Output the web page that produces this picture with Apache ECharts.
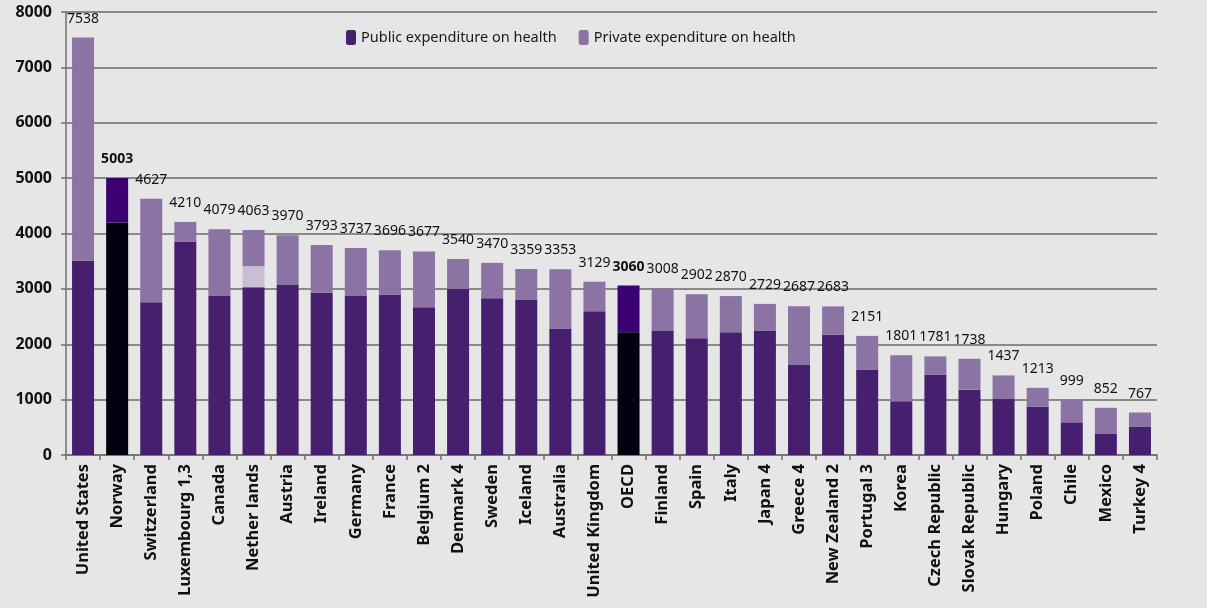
<!DOCTYPE html>
<html>
<head>
<meta charset="utf-8">
<script src="https://cdn.jsdelivr.net/npm/echarts@6/dist/echarts.min.js"></script>
<style>
html,body{margin:0;padding:0;background:#e6e6e6;}
#chart{width:1207px;height:608px;}
</style>
</head>
<body>
<div id="chart"></div>
<script>
const categories = ["United States","Norway","Switzerland","Luxembourg 1,3","Canada","Nether lands","Austria","Ireland","Germany","France","Belgium 2","Denmark 4","Sweden","Iceland","Australia","United Kingdom","OECD","Finland","Spain","Italy","Japan 4","Greece 4","New Zealand 2","Portugal 3","Korea","Czech Republic","Slovak Republic","Hungary","Poland","Chile","Mexico","Turkey 4"];
const totals = [7538,5003,4627,4210,4079,4063,3970,3793,3737,3696,3677,3540,3470,3359,3353,3129,3060,3008,2902,2870,2729,2687,2683,2151,1801,1781,1738,1437,1213,999,852,767];
const publicExp = [3510,4200,2760,3850,2870,3030,3070,2930,2870,2900,2670,3000,2830,2800,2285,2595,2215,2240,2110,2215,2240,1625,2170,1545,970,1455,1180,1010,870,590,380,515];
const otherExp = [0,0,0,0,0,380,0,0,0,0,0,0,0,0,0,0,0,0,0,0,0,0,0,0,0,0,0,0,0,0,0,0];
const highlighted = ["Norway","OECD"];
const yTicks = [0,1000,2000,3000,4000,5000,6000,7000,8000];

const privateExp = totals.map((t,i)=>t-publicExp[i]-otherExp[i]);
const C_PUB = '#46206f', C_PRIV = '#8b73a3', C_OTHER = '#cbbfd6';
const C_HPUB = '#05000f', C_HPRIV = '#3b0073';
const FONT = '"Noto Sans", sans-serif';

const pubData = publicExp.map((v,i)=> highlighted.includes(categories[i]) ? {value:v,itemStyle:{color:C_HPUB}} : v);
const privData = privateExp.map((v,i)=> highlighted.includes(categories[i]) ? {value:v,itemStyle:{color:C_HPRIV},label:{fontWeight:'bold'}} : v);

const chart = echarts.init(document.getElementById('chart'));
chart.setOption({
  backgroundColor:'#e6e6e6',
  animation:false,
  textStyle:{fontFamily:FONT},
  legend:{
    data:['Public expenditure on health','Private expenditure on health'],
    left:341, top:25, itemWidth:10, itemHeight:15, itemGap:22,
    textStyle:{fontSize:14.5,color:'#1a1a1a',fontFamily:FONT}
  },
  grid:{left:66,right:50,top:12,bottom:153,containLabel:false},
  xAxis:{
    type:'category', data:categories,
    axisLine:{lineStyle:{color:'#707070',width:1.5}},
    axisTick:{show:true,length:5,interval:0,lineStyle:{color:'#707070',width:1.5}},
    axisLabel:{rotate:90,interval:0,fontSize:16.5,fontWeight:'bold',color:'#111',margin:9,fontFamily:FONT}
  },
  yAxis:{
    type:'value', min:yTicks[0], max:yTicks[yTicks.length-1], interval:1000,
    axisLine:{show:true,lineStyle:{color:'#707070',width:1.5}},
    axisTick:{show:true,length:5,lineStyle:{color:'#707070',width:1.5}},
    axisLabel:{fontSize:16,fontWeight:'bold',color:'#111',margin:14,fontFamily:FONT,formatter:v=>String(v)},
    splitLine:{lineStyle:{color:'#6a6a6a',width:1.5}}
  },
  series:[
    {name:'Public expenditure on health',type:'bar',stack:'t',data:pubData,barWidth:22,itemStyle:{color:C_PUB}},
    {name:'Other',type:'bar',stack:'t',data:otherExp,barWidth:22,itemStyle:{color:C_OTHER}},
    {name:'Private expenditure on health',type:'bar',stack:'t',data:privData,barWidth:22,itemStyle:{color:C_PRIV},
      label:{show:true,position:'top',distance:12,fontSize:14,color:'#111',fontFamily:FONT,
        formatter:p=>String(totals[p.dataIndex])}}
  ]
});
</script>
</body>
</html>
